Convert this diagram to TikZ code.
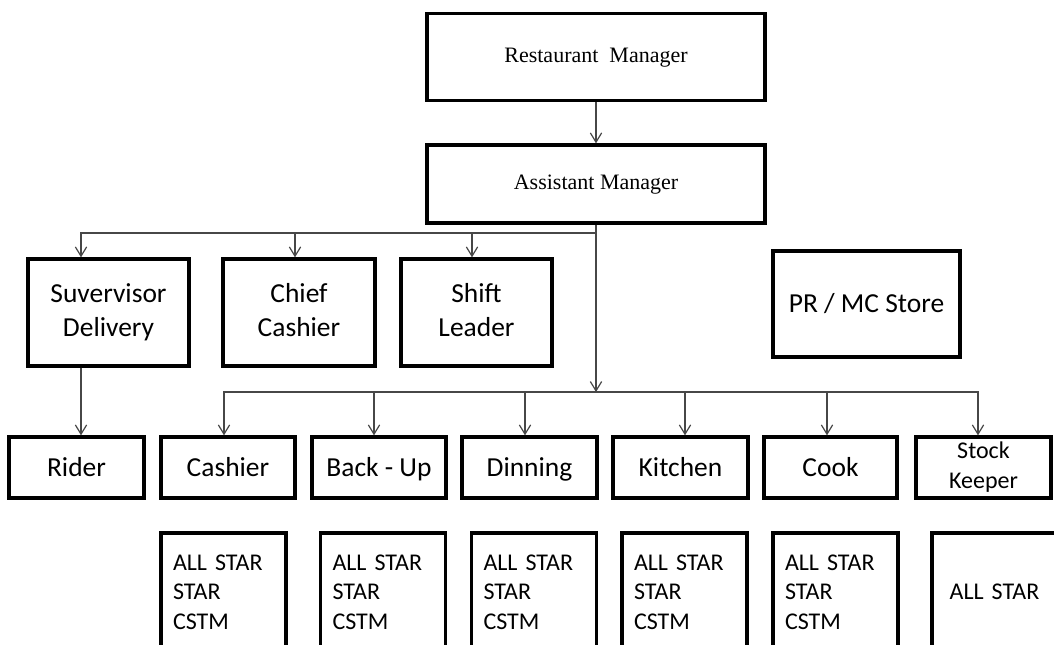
\documentclass[tikz,border=0pt]{standalone}
\usepackage{fontspec}
\setmainfont{Carlito}
\newfontfamily\timesf{Liberation Serif}
\usetikzlibrary{arrows.meta}
\newlength\pxu
\setlength\pxu{0.75pt}
\begin{document}
\begin{tikzpicture}[x=0.75pt,y=-0.75pt,
  frame/.style={draw=black, line width=2.5pt, inner sep=0pt, align=center},
  topbox/.style={frame, font=\timesf\fontsize{16.5}{20}\selectfont, minimum width=338\pxu, text height=11pt, text depth=3pt},
  midbox/.style={frame, font=\fontsize{20.6}{25.5}\selectfont, minimum height=107\pxu},
  rowbox/.style={frame, font=\fontsize{20.6}{25.5}\selectfont, minimum height=61\pxu, text height=15pt, text depth=2pt},
  starbox/.style={draw=black, line width=2.5pt, inner ysep=0pt, inner xsep=12\pxu, align=left,
     font=\fontsize{18}{22.2}\selectfont, minimum height=118\pxu, text width=101\pxu},
  ln/.style={draw=black!72, line width=0.9pt},
  arr/.style={ln, -{Straight Barb[length=7pt,width=8.5pt]}}
]
\useasboundingbox (0,0) rectangle (1054,644);
\clip (0,0) rectangle (1054,644);
\fill[white] (0,0) rectangle (1054,644);

% top
\node[topbox, minimum height=87\pxu] (rm) at (596,57) {Restaurant~ Manager};
\node[topbox, minimum height=78\pxu] (am) at (596,184) {Assistant Manager};

% level 2
\node[midbox, minimum width=161\pxu] (sd) at (108.5,312.5) {Suvervisor\strut\\Delivery\strut};
\node[midbox, minimum width=152\pxu] (cc) at (299,312.5) {Chief\strut\\Cashier\strut};
\node[midbox, minimum width=151\pxu] (sl) at (476.5,312.5) {Shift\strut\\Leader\strut};
\node[frame, font=\fontsize{20.6}{25.5}\selectfont, minimum width=187\pxu, minimum height=106\pxu, text height=15pt, text depth=2pt] (pr) at (866.5,304) {PR / MC Store};

% level 3
\node[rowbox, minimum width=135\pxu] (rider) at (76.5,467.5) {Rider};
\node[rowbox, minimum width=134\pxu] (cashier) at (228,467.5) {Cashier};
\node[rowbox, minimum width=134\pxu] (backup) at (379,467.5) {Back - Up};
\node[rowbox, minimum width=135\pxu] (dinning) at (529.5,467.5) {Dinning};
\node[rowbox, minimum width=135\pxu] (kitchen) at (680.5,467.5) {Kitchen};
\node[rowbox, minimum width=133\pxu] (cook) at (830.5,467.5) {Cook};
\node[frame, minimum height=61\pxu, minimum width=135\pxu, font=\fontsize{18}{22}\selectfont] (stock) at (983.5,467.5) {Stock\strut\\Keeper\strut};

% level 4
\node[starbox] (cashier4) at (223.5,592) {ALL STAR\\STAR\\CSTM};
\node[starbox] (backup4) at (383,592) {ALL STAR\\STAR\\CSTM};
\node[starbox] (dinning4) at (534,592) {ALL STAR\\STAR\\CSTM};
\node[starbox] (kitchen4) at (684.5,592) {ALL STAR\\STAR\\CSTM};
\node[starbox] (cook4) at (835.5,592) {ALL STAR\\STAR\\CSTM};
\node[starbox, align=center] (stock4) at (994.5,592) {ALL STAR};

% connector helpers
\coordinate (jt) at (596,233);
\coordinate (jb) at (596,392);
\coordinate (xsd) at (81,0);
\coordinate (xcc) at (295,0);
\coordinate (xsl) at (472,0);
\coordinate (xca) at (224,0);
\coordinate (xbu) at (374,0);
\coordinate (xdi) at (525,0);
\coordinate (xki) at (685,0);
\coordinate (xco) at (827,0);
\coordinate (xst) at (978,0);

\draw[arr] (rm) -- (am);
\draw[ln] (am.south) -- (jt);
\draw[arr] (jt) -- (jb);
\draw[arr] (jt) -| (sd.north -| xsd);
\draw[arr] (jt) -| (cc.north -| xcc);
\draw[arr] (jt) -| (sl.north -| xsl);
\draw[arr] (sd.south -| xsd) -- (rider.north -| xsd);
\draw[arr] (jb) -| (cashier.north -| xca);
\draw[arr] (jb) -| (backup.north -| xbu);
\draw[arr] (jb) -| (dinning.north -| xdi);
\draw[arr] (jb) -| (kitchen.north -| xki);
\draw[arr] (jb) -| (cook.north -| xco);
\draw[arr] (jb) -| (stock.north -| xst);
\end{tikzpicture}
\end{document}
